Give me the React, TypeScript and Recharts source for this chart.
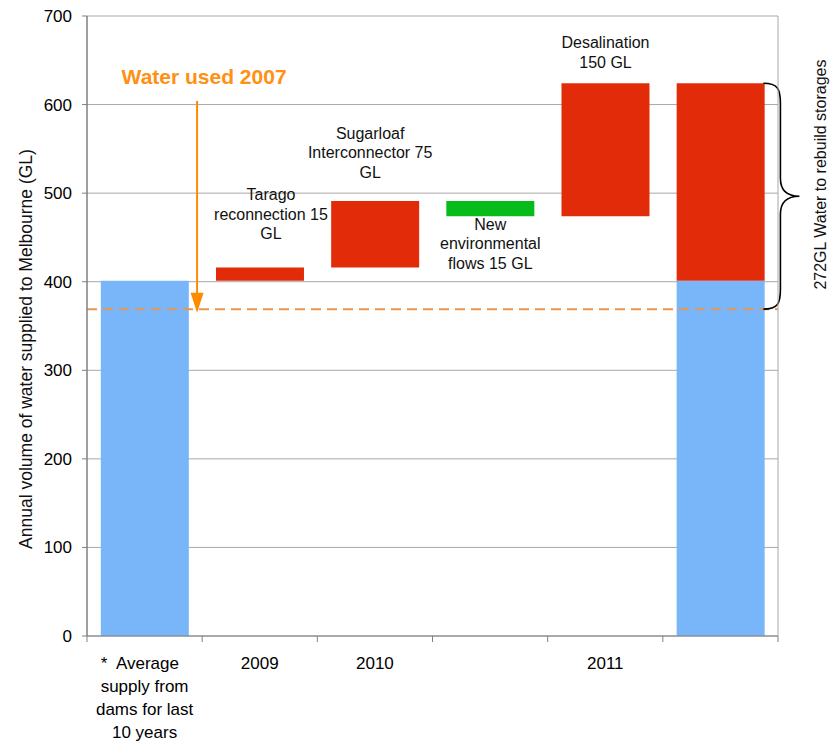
import { ComposedChart, Bar, XAxis, YAxis, CartesianGrid, ReferenceLine, LabelList, Cell } from 'recharts';

// category keys and the tick labels shown under them
const categories = ['avg', '2009', '2010', 'env', '2011', 'total'];
const tickLabels = ['*  Average  \nsupply from\ndams for last\n10 years', '2009', '2010', '', '2011', ''];
// blue base: average supply from dams
const supply = [401, 0, 0, 0, 0, 401];
// waterfall steps (GL)
const stepLow = [401, 401, 416, 474, 474, 401];
const stepHigh = [401, 416, 491, 491, 624, 624];
const stepKind = ['none', 'add', 'add', 'env', 'add', 'add'];
const notes = ['401 GL', 'Tarago\nreconnection 15\nGL', 'Sugarloaf\nInterconnector 75\nGL', 'New\nenvironmental\nflows 15 GL', 'Desalination\n150 GL', ''];
const yTicks = [0, 100, 200, 300, 400, 500, 600, 700];
const waterUsed2007 = 369;
const arrowFrom = 604;
const arrowTo = 365;

const BLUE = '#79b6f9';
const RED = '#e22c09';
const GREEN = '#06bb1a';
const ORANGE = '#ff8a00';
const DASH = '#e8964e';
const GRID = '#a8a8a8';
const AXIS = '#808080';
const FONT = '"Liberation Sans", Arial, sans-serif';

const stepColor: Record<string, string> = { none: RED, add: RED, env: GREEN };

const data = categories.map((name, i) => ({
  name,
  supply: supply[i],
  spacer: stepLow[i] - supply[i],
  step: stepHigh[i] - stepLow[i],
  note: notes[i],
}));

// where each note sits relative to its bar (last line above top, or first line below bottom)
const noteLayout = [
  { dx: 0, dy: -18, below: false },
  { dx: 11, dy: -34, below: false },
  { dx: -5, dy: -29, below: false },
  { dx: 0, dy: 8, below: true },
  { dx: 0, dy: -21, below: false },
];

function NoteLabel(props: any) {
  const { x, y, width, height, value } = props;
  const idx = notes.indexOf(String(value));
  if (idx < 0 || !value) return null;
  const lay = noteLayout[idx];
  const lines = String(value).split('\n');
  const cx = Number(x) + Number(width) / 2 + lay.dx;
  const top = Math.min(Number(y), Number(y) + Number(height));
  const bottom = Math.max(Number(y), Number(y) + Number(height));
  const lh = 19.5;
  return (
    <text textAnchor="middle" fontSize={16} fill="#111" fontFamily={FONT}>
      {lines.map((l, i) => {
        const cy = lay.below ? bottom + lay.dy + i * lh : top + lay.dy - (lines.length - 1 - i) * lh;
        return (
          <tspan key={i} x={cx} y={cy} dominantBaseline="central">
            {l}
          </tspan>
        );
      })}
    </text>
  );
}

// category tick: label lines plus tick marks on the band edges
function CatTick(props: any) {
  const { x, y, payload, width, visibleTicksCount } = props;
  const idx = typeof payload.index === 'number' ? payload.index : categories.indexOf(payload.value);
  const band = width && visibleTicksCount ? width / visibleTicksCount : 691 / 6;
  const half = band / 2;
  const lines = (tickLabels[idx] || '').split('\n');
  return (
    <g>
      <line x1={x - half} x2={x - half} y1={y} y2={y + 6} stroke={AXIS} />
      {idx === categories.length - 1 && <line x1={x + half} x2={x + half} y1={y} y2={y + 6} stroke={AXIS} />}
      <text textAnchor="middle" fontSize={17} fill="#000" fontFamily={FONT} style={{ whiteSpace: 'pre' }}>
        {lines.map((l, i) => (
          <tspan key={i} x={x} y={y + 33 + i * 23}>
            {l}
          </tspan>
        ))}
      </text>
    </g>
  );
}

function ArrowShape(props: any) {
  const x = Number(props.x1) + 52.5;
  const top = Math.min(props.y1, props.y2);
  const tip = Math.max(props.y1, props.y2);
  const head = 20;
  return (
    <g>
      <line x1={x} x2={x} y1={top} y2={tip - head + 1} stroke={ORANGE} strokeWidth={2} />
      <polygon points={`${x - 6.5},${tip - head} ${x + 6.5},${tip - head} ${x},${tip}`} fill={ORANGE} />
      <text x={x + 7} y={top - 17} textAnchor="middle" fontSize={21} fontWeight="bold" fill="#ff9012" fontFamily={FONT}>
        Water used 2007
      </text>
    </g>
  );
}

function BraceShape(props: any) {
  const x0 = Number(props.x1) + 43;
  const top = Math.min(props.y1, props.y2);
  const bot = Math.max(props.y1, props.y2);
  const mid = (top + bot) / 2;
  const v = x0 + 17;
  const tip = x0 + 36;
  const d = [
    `M ${x0} ${top}`,
    `C ${x0 + 14} ${top}, ${v} ${top + 5}, ${v} ${top + 20}`,
    `L ${v} ${mid - 18}`,
    `C ${v} ${mid - 5}, ${v + 7} ${mid}, ${tip} ${mid}`,
    `C ${v + 7} ${mid}, ${v} ${mid + 5}, ${v} ${mid + 18}`,
    `L ${v} ${bot - 20}`,
    `C ${v} ${bot - 5}, ${x0 + 14} ${bot}, ${x0} ${bot}`,
  ].join(' ');
  const tx = x0 + 57;
  const ty = top + (bot - top) * 0.404;
  return (
    <g>
      <path d={d} fill="none" stroke="#000" strokeWidth={1.6} />
      <text
        x={tx}
        y={ty}
        transform={`rotate(-90 ${tx} ${ty})`}
        textAnchor="middle"
        dominantBaseline="central"
        fontSize={16}
        fill="#111"
        fontFamily={FONT}
      >
        272GL Water to rebuild storages
      </text>
    </g>
  );
}

export default function App() {
  return (
    <div style={{ position: 'absolute', left: 0, top: 0, width: 830, height: 745, background: '#fff' }}>
      <ComposedChart
        width={830}
        height={745}
        data={data}
        margin={{ top: 16, right: 0, bottom: 9, left: 0 }}
        barCategoryGap="12%"
        style={{ fontFamily: FONT }}
      >
        <CartesianGrid horizontal vertical={false} stroke={GRID} />
        <XAxis
          dataKey="name"
          interval={0}
          height={100}
          tickSize={0}
          tickMargin={0}
          tickLine={false}
          axisLine={{ stroke: AXIS }}
          tick={<CatTick />}
        />
        <YAxis
          domain={[0, 700]}
          ticks={yTicks}
          width={87}
          tickSize={5}
          tickMargin={10}
          axisLine={{ stroke: AXIS, strokeWidth: 1.5 }}
          tickLine={{ stroke: AXIS }}
          tick={{ fill: '#000', fontSize: 17 }}
          label={{
            value: 'Annual volume of water supplied to Melbourne (GL)',
            angle: -90,
            position: 'center',
            dx: -18,
            dy: 23,
            fill: '#111',
            fontSize: 17.5,
          }}
        />
        <YAxis
          yAxisId="frame"
          orientation="right"
          domain={[0, 700]}
          width={52}
          tick={false}
          tickLine={false}
          axisLine={{ stroke: GRID }}
        />
        <Bar dataKey="supply" stackId="w" fill={BLUE} isAnimationActive={false} />
        <Bar dataKey="spacer" stackId="w" fill="transparent" isAnimationActive={false} />
        <Bar dataKey="step" stackId="w" isAnimationActive={false}>
          {stepKind.map((k, i) => (
            <Cell key={i} fill={stepColor[k]} />
          ))}
          <LabelList dataKey="note" content={<NoteLabel />} />
        </Bar>
        <ReferenceLine y={waterUsed2007} stroke={DASH} strokeWidth={2} strokeDasharray="10 6" />
        <ReferenceLine
          segment={[
            { x: 'avg', y: arrowFrom },
            { x: 'avg', y: arrowTo },
          ]}
          shape={<ArrowShape />}
        />
        <ReferenceLine
          segment={[
            { x: 'total', y: stepHigh[5] },
            { x: 'total', y: waterUsed2007 },
          ]}
          shape={<BraceShape />}
        />
      </ComposedChart>
    </div>
  );
}
